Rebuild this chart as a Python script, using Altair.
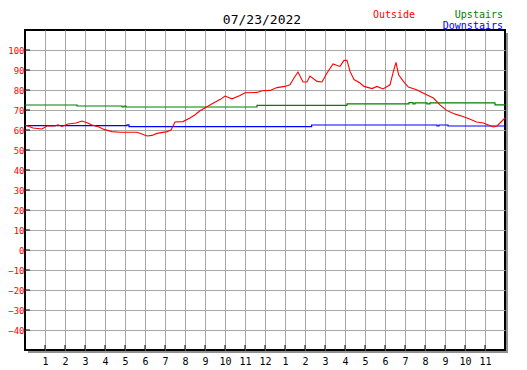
import json
import altair as alt
import pandas as pd

# ---------------- data ----------------
title_text = "07/23/2022"
series_names = ["Outside", "Upstairs", "Downstairs"]
series_colors = ["#ff0000", "#008000", "#0000ff"]

hours_out = [0.0, 0.4, 0.85, 1.1, 1.5, 1.65, 1.85, 2.15, 2.55, 2.85, 3.1, 3.35, 3.7, 3.95,
             4.35, 4.75, 5.6, 5.85, 6.1, 6.35, 6.6, 7.1, 7.3, 7.5, 7.9, 8.25, 8.5, 8.75,
             9.1, 9.4, 9.75, 10.0, 10.35, 10.75, 11.0, 11.6, 11.85, 12.25, 12.6, 13.0,
             13.25, 13.45, 13.65, 13.9, 14.1, 14.25, 14.6, 14.85, 15.1, 15.4, 15.75,
             15.95, 16.1, 16.25, 16.45, 16.75, 16.95, 17.35, 17.6, 17.9, 18.25, 18.42,
             18.55, 18.68, 18.92, 19.17, 19.58, 20.0, 20.42, 20.75, 21.08, 21.42, 21.75,
             22.17, 22.58, 22.92, 23.17, 23.42, 23.6, 24.0]
temp_out = [62.5, 61.0, 60.5, 62.0, 62.0, 62.6, 61.8, 63.0, 63.5, 64.5, 63.6, 62.5, 61.5, 60.3,
            59.2, 58.9, 58.9, 58.0, 57.0, 57.3, 58.3, 59.2, 60.0, 64.0, 64.2, 66.0, 67.6, 69.6,
            71.6, 73.4, 75.2, 77.0, 75.6, 77.2, 78.6, 78.8, 79.6, 79.8, 81.2, 81.8,
            82.6, 86.0, 89.0, 84.0, 84.0, 87.0, 84.3, 84.0, 88.5, 93.0, 91.8,
            94.8, 94.8, 89.3, 85.2, 83.5, 81.8, 80.7, 81.8, 80.5, 82.6, 89.3,
            93.8, 87.6, 84.3, 81.5, 80.1, 78.0, 76.0, 72.6, 69.8, 68.2, 67.2,
            65.7, 64.0, 63.5, 62.5, 61.5, 62.0, 66.0]

hours_up = [0.0, 2.6, 4.85, 4.95, 5.05, 11.6, 16.1, 19.2, 19.4, 19.5, 20.1, 20.25, 23.5, 24.0]
temp_up = [72.5, 72.0, 71.5, 72.0, 71.5, 72.3, 73.1, 73.7, 73.1, 73.6, 73.1, 73.6, 72.6, 72.6]

hours_down = [0.0, 5.1, 5.2, 14.33, 20.6, 20.7, 21.15, 24.0]
temp_down = [62.2, 62.6, 61.7, 62.5, 62.0, 62.5, 62.0, 62.0]

x_tick_hours = list(range(1, 24))
x_tick_labels = ["1", "2", "3", "4", "5", "6", "7", "8", "9", "10", "11", "12",
                 "1", "2", "3", "4", "5", "6", "7", "8", "9", "10", "11"]
y_ticks = list(range(-40, 101, 10))

# ---------------- chart ----------------
W, H = 480, 320
FONT = "DejaVu Sans Mono"
GRID = "#a8a8a8"

xs = alt.Scale(domain=[0, 24], nice=False, zero=False)
ys = alt.Scale(domain=[-50, 110], nice=False, zero=False)

label_expr = json.dumps(x_tick_labels) + "[datum.value - 1]"
xax = alt.Axis(values=x_tick_hours, labelExpr=label_expr, grid=True, gridColor=GRID,
               gridWidth=1, ticks=False, domain=False, labelFont=FONT, labelFontSize=10,
               labelColor="black", labelPadding=6, title=None, labelAngle=0)
yax = alt.Axis(values=y_ticks, grid=True, gridColor=GRID, gridWidth=1, ticks=False,
               domain=False, labelFont=FONT, labelFontSize=9, labelColor="#ff0000",
               labelPadding=1, title=None)

df_out = pd.DataFrame({"hour": hours_out, "temp": temp_out})
df_up = pd.DataFrame({"hour": hours_up, "temp": temp_up})
df_down = pd.DataFrame({"hour": hours_down, "temp": temp_down})

x_enc = alt.X("hour:Q", scale=xs, axis=xax)
y_enc = alt.Y("temp:Q", scale=ys, axis=yax)

line_up = alt.Chart(df_up).mark_line(color=series_colors[1], strokeWidth=1.2,
                                     interpolate="step-after").encode(x=x_enc, y=y_enc)
line_down = alt.Chart(df_down).mark_line(color=series_colors[2], strokeWidth=1.2,
                                         interpolate="step-after").encode(x=x_enc, y=y_enc)
line_out = alt.Chart(df_out).mark_line(color=series_colors[0], strokeWidth=1.1).encode(x=x_enc, y=y_enc)

ytick = alt.Chart(pd.DataFrame({"v": y_ticks})).mark_rule(color="black", strokeWidth=1).encode(
    y=alt.Y("v:Q", scale=ys, axis=yax), x=alt.value(0), x2=alt.value(5))
xtick = alt.Chart(pd.DataFrame({"h": x_tick_hours})).mark_rule(color="black", strokeWidth=1).encode(
    x=alt.X("h:Q", scale=xs, axis=xax), y=alt.value(H), y2=alt.value(H - 5))

shadow_r = alt.Chart(pd.DataFrame({"a": [0]})).mark_rule(color="#909090", strokeWidth=2).encode(
    x=alt.value(W + 2), y=alt.value(3), y2=alt.value(H + 3))
shadow_b = alt.Chart(pd.DataFrame({"a": [0]})).mark_rule(color="#909090", strokeWidth=2).encode(
    y=alt.value(H + 2), x=alt.value(3), x2=alt.value(W + 3))

title = alt.Chart(pd.DataFrame({"t": [title_text]})).mark_text(
    font=FONT, fontSize=13, color="black", align="center", baseline="alphabetic").encode(
    text="t:N", x=alt.value(237), y=alt.value(-6))
leg_out = alt.Chart(pd.DataFrame({"t": [series_names[0]]})).mark_text(
    font=FONT, fontSize=10, color=series_colors[0], align="left", baseline="alphabetic").encode(
    text="t:N", x=alt.value(348), y=alt.value(-12))
leg_up = alt.Chart(pd.DataFrame({"t": [series_names[1]]})).mark_text(
    font=FONT, fontSize=10, color=series_colors[1], align="right", baseline="alphabetic").encode(
    text="t:N", x=alt.value(478), y=alt.value(-12))
leg_down = alt.Chart(pd.DataFrame({"t": [series_names[2]]})).mark_text(
    font=FONT, fontSize=10, color=series_colors[2], align="right", baseline="alphabetic").encode(
    text="t:N", x=alt.value(478), y=alt.value(-1.5))

chart = alt.layer(
    line_up, line_down, line_out, ytick, xtick, shadow_r, shadow_b,
    title, leg_out, leg_up, leg_down
).properties(
    width=W, height=H,
    padding={"left": 17, "top": 22, "right": 10, "bottom": 18},
    autosize=alt.AutoSizeParams(type="none"),
).configure_view(stroke="black", strokeWidth=2)

chart.save("out.html", embed_options={"renderer": "svg", "actions": False})
